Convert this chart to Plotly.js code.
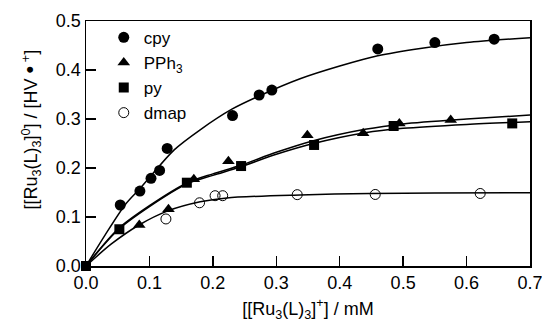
<!DOCTYPE html>
<html><head><meta charset="utf-8">
<script src="https://cdn.plot.ly/plotly-3.0.1.min.js"></script>
<style>body{margin:0;background:#fff}#c{width:542px;height:322px}</style>
</head><body><div id="c"></div>
<script>
// measured points
const cpyX = [0.054, 0.085, 0.1025, 0.116, 0.128, 0.231, 0.273, 0.293, 0.460, 0.550, 0.6435];
const cpyY = [0.1245, 0.153, 0.179, 0.195, 0.240, 0.307, 0.349, 0.359, 0.443, 0.456, 0.463];
const pphX = [0.084, 0.130, 0.170, 0.2245, 0.349, 0.437, 0.494, 0.575];
const pphY = [0.0837, 0.116, 0.177, 0.214, 0.267, 0.271, 0.291, 0.298];
const pyX = [0, 0.0526, 0.159, 0.2445, 0.3596, 0.485, 0.672];
const pyY = [0, 0.075, 0.170, 0.204, 0.247, 0.2857, 0.291];
const dmapX = [0.126, 0.179, 0.2035, 0.2155, 0.333, 0.456, 0.6215];
const dmapY = [0.096, 0.129, 0.1435, 0.1435, 0.1456, 0.146, 0.148];
// fitted curves
const cpyFitX = [0, 0.03, 0.0626, 0.085, 0.139, 0.18, 0.23, 0.273, 0.3375, 0.4, 0.46, 0.527, 0.6, 0.7];
const cpyFitY = [0, 0.063, 0.1265, 0.158, 0.237, 0.278, 0.32, 0.347, 0.382, 0.408, 0.429, 0.444, 0.456, 0.466];
const pphFitX = [0, 0.05, 0.1, 0.16, 0.2, 0.243, 0.3, 0.3585, 0.44, 0.5, 0.6, 0.7];
const pphFitY = [0, 0.075, 0.123, 0.170, 0.188, 0.205, 0.232, 0.2557, 0.279, 0.290, 0.300, 0.308];
const pyFitX = [0, 0.05, 0.1, 0.16, 0.2, 0.243, 0.3, 0.3585, 0.44, 0.5, 0.6, 0.7];
const pyFitY = [0, 0.073, 0.121, 0.168, 0.185, 0.202, 0.228, 0.250, 0.272, 0.281, 0.289, 0.2946];
const dmapFitX = [0, 0.04, 0.0836, 0.128, 0.18, 0.222, 0.3375, 0.448, 0.55, 0.7];
const dmapFitY = [0, 0.045, 0.0837, 0.112, 0.131, 0.139, 0.145, 0.148, 0.149, 0.1496];
const xTicks = [0, 0.1, 0.2, 0.3, 0.4, 0.5, 0.6, 0.7];
const yTicks = [0, 0.1, 0.2, 0.3, 0.4, 0.5];

const lineStyle = {color: '#000', width: 1.5, shape: 'spline', smoothing: 0.8};
const traces = [
  {x: cpyFitX, y: cpyFitY, mode: 'lines', line: lineStyle, showlegend: false, hoverinfo: 'skip'},
  {x: pphFitX, y: pphFitY, mode: 'lines', line: lineStyle, showlegend: false, hoverinfo: 'skip'},
  {x: pyFitX, y: pyFitY, mode: 'lines', line: lineStyle, showlegend: false, hoverinfo: 'skip'},
  {x: dmapFitX, y: dmapFitY, mode: 'lines', line: lineStyle, showlegend: false, hoverinfo: 'skip'},
  {x: cpyX, y: cpyY, mode: 'markers', name: 'cpy', marker: {symbol: 'circle', size: 11, color: '#000'}},
  {x: pphX, y: pphY, mode: 'markers', name: 'PPh<sub>3</sub>', marker: {symbol: 'triangle-up', size: 11, color: '#000'}},
  {x: pyX, y: pyY, mode: 'markers', name: 'py', cliponaxis: false, marker: {symbol: 'square', size: 10, color: '#000'}},
  {x: dmapX, y: dmapY, mode: 'markers', name: 'dmap', marker: {symbol: 'circle-open', size: 10, color: '#000', line: {width: 1, color: '#000'}}}
];
const font = {family: 'Liberation Sans, Arial, sans-serif', size: 18, color: '#000'};
const layout = {
  width: 542, height: 322,
  margin: {l: 86, r: 12, t: 21, b: 56},
  paper_bgcolor: '#fff', plot_bgcolor: '#fff',
  font: font,
  showlegend: true,
  legend: {x: 0.04, y: 1.005, xanchor: 'left', yanchor: 'top', bgcolor: 'rgba(0,0,0,0)', font: {size: 17}, tracegroupgap: 0, itemwidth: 30},
  xaxis: {
    range: [0, 0.7], tickvals: xTicks, ticktext: xTicks.map(v => v.toFixed(1)),
    ticks: 'inside', ticklen: 10, tickwidth: 1.3, tickcolor: '#000', ticklabeloverflow: 'allow',
    showline: true, linecolor: '#000', linewidth: 1.5, mirror: true,
    showgrid: false, zeroline: false,
    title: {text: '[[Ru<sub>3</sub>(L)<sub>3</sub>]<sup>+</sup>] / mM', font: {size: 18}, standoff: 10}
  },
  yaxis: {
    range: [0, 0.5], tickvals: yTicks, ticktext: yTicks.map(v => v.toFixed(1)),
    ticks: 'inside', ticklen: 10, tickwidth: 1.3, tickcolor: '#000', ticklabeloverflow: 'allow',
    showline: true, linecolor: '#000', linewidth: 1.5, mirror: true,
    showgrid: false, zeroline: false
  },
  annotations: [{
    text: '[[Ru<sub>3</sub>(L)<sub>3</sub>]<sup>0</sup>] / [HV <span style="font-size:22px">•</span><sup> +</sup>]',
    xref: 'paper', yref: 'paper', x: -0.125, y: 0.555, xanchor: 'center', yanchor: 'middle',
    textangle: -90, showarrow: false, font: {size: 18}
  }]
};
Plotly.newPlot('c', traces, layout, {displayModeBar: false, staticPlot: true});
</script></body></html>
